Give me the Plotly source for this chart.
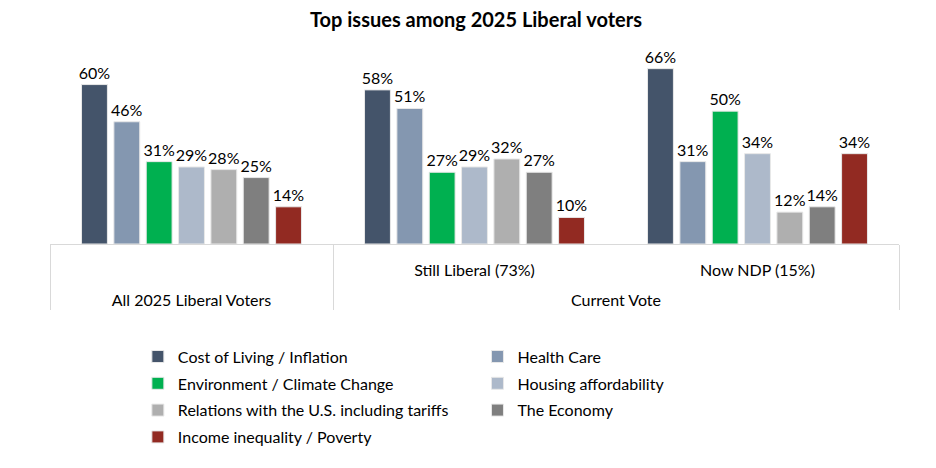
import plotly.graph_objects as go

# Top issues among 2025 Liberal voters
outer = ["All 2025 Liberal Voters", "Current Vote", "Current Vote"]
inner = [" ", "Still Liberal (73%)", "Now NDP (15%)"]

issues = [
    "Cost of Living / Inflation",
    "Health Care",
    "Environment / Climate Change",
    "Housing affordability",
    "Relations with the U.S. including tariffs",
    "The Economy",
    "Income inequality / Poverty",
]
colors = ["#44546A", "#8497B0", "#00B050", "#ADB9CA", "#AFAFAF", "#7F7F7F", "#922A22"]

cost_of_living = [60, 58, 66]
health_care = [46, 51, 31]
environment = [31, 27, 50]
housing = [29, 29, 34]
us_relations = [28, 32, 12]
economy = [25, 27, 14]
inequality = [14, 10, 34]

values = [cost_of_living, health_care, environment, housing, us_relations, economy, inequality]

FONT = "Lato"

# outer labels sit a line lower in the reference, hence the leading break
outer_lbl = ["<br>" + o for o in outer]

fig = go.Figure()
for i, (name, vals, col) in enumerate(zip(issues, values, colors)):
    fig.add_trace(go.Bar(
        x=[outer_lbl, inner],
        y=vals,
        name=name,
        marker=dict(color=col, line=dict(color="#E8E8E8", width=1)),
        text=[f"{v}%" for v in vals],
        textposition="outside",
        textangle=0,
        constraintext="none",
        cliponaxis=False,
        textfont=dict(family=FONT, size=16, color="#000000"),
        legendgroup=name,
        # left column of the legend takes the even entries, right column the odd ones
        legend="legend" if i % 2 == 0 else "legend2",
    ))

legend_style = dict(
    orientation="v",
    yanchor="top",
    y=-0.514,
    xanchor="left",
    traceorder="grouped",
    tracegroupgap=3,
    font=dict(family=FONT, size=16, color="#000000"),
    bgcolor="rgba(0,0,0,0)",
)

fig.update_layout(
    width=936,
    height=468,
    margin=dict(l=42, r=45, t=50, b=232),
    paper_bgcolor="white",
    plot_bgcolor="white",
    barmode="group",
    bargap=0.2,
    bargroupgap=0.2,
    title=dict(
        text="<b>Top issues among 2025 Liberal voters</b>",
        x=0.5,
        xanchor="center",
        y=0.974,
        yanchor="middle",
        font=dict(family=FONT, size=20, color="#000000"),
    ),
    xaxis=dict(
        type="multicategory",
        showline=True,
        linecolor="#D9D9D9",
        linewidth=1,
        ticks="",
        ticklabelstandoff=12,
        showdividers=True,
        dividercolor="#D9D9D9",
        dividerwidth=1,
        tickfont=dict(family=FONT, size=16, color="#000000"),
    ),
    yaxis=dict(
        range=[0, 70],
        visible=False,
        showgrid=False,
    ),
    legend=dict(legend_style, x=0.1035),
    legend2=dict(legend_style, x=0.5035),
)

fig.write_html("out.html")
